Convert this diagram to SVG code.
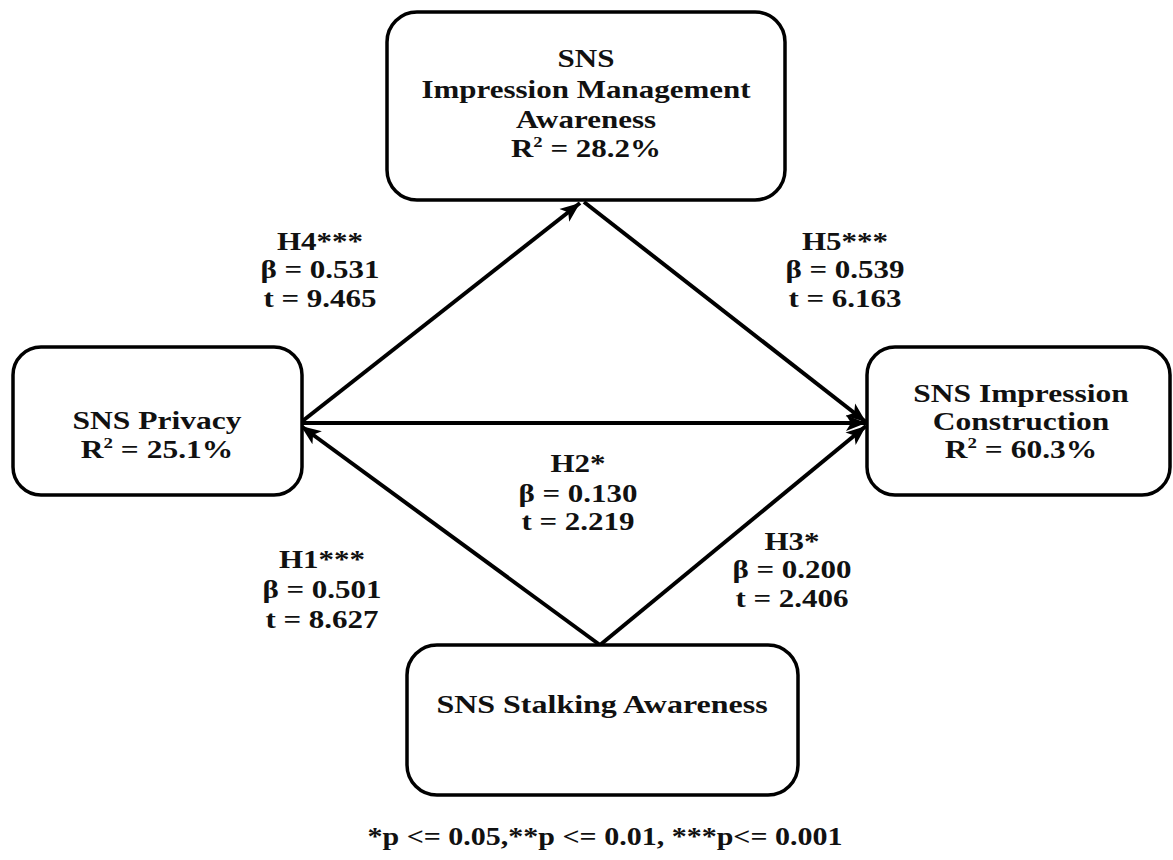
<svg xmlns="http://www.w3.org/2000/svg" width="1173" height="860" viewBox="0 0 1173 860">
<style>
.box{fill:#fff;stroke:#000;stroke-width:3.5}
.t{font-family:"Liberation Serif","Times New Roman",serif;font-weight:bold;font-size:25px;fill:#111;text-anchor:middle}
.c{stroke:#000;stroke-width:4;fill:none}
</style>
<defs>
<marker id="ah" markerUnits="userSpaceOnUse" markerWidth="22" markerHeight="18" refX="20" refY="9" orient="auto">
<path d="M0,1 L20,9 L0,17 L5,9 z" fill="#000"/>
</marker>
</defs>
<rect width="1173" height="860" fill="#fff"/>
<g id="connectors">
<line class="c" x1="300" y1="423" x2="580" y2="203" marker-end="url(#ah)"/>
<line class="c" x1="584" y1="202" x2="866" y2="422" marker-end="url(#ah)"/>
<line class="c" x1="300" y1="423" x2="866" y2="423" stroke-width="4.5" marker-end="url(#ah)"/>
<line class="c" x1="600" y1="645" x2="301" y2="426" marker-end="url(#ah)"/>
<line class="c" x1="600" y1="645" x2="866" y2="426" marker-end="url(#ah)"/>
</g>
<g id="node-impression-management">
<rect class="box" x="387" y="12" width="398" height="188" rx="30"/>
<text class="t" transform="translate(586,67) scale(1.24,1)">SNS</text>
<text class="t" transform="translate(586,98) scale(1.24,1)">Impression Management</text>
<text class="t" transform="translate(586,128) scale(1.24,1)">Awareness</text>
<text class="t" transform="translate(586,157) scale(1.24,1)">R<tspan font-size="15" dy="-10">2</tspan><tspan dy="10"> = 28.2%</tspan></text>
</g>
<g id="node-privacy">
<rect class="box" x="13" y="347" width="289" height="148" rx="28"/>
<text class="t" transform="translate(157,429) scale(1.26,1)">SNS Privacy</text>
<text class="t" transform="translate(157,458) scale(1.26,1)">R<tspan font-size="15" dy="-10">2</tspan><tspan dy="10"> = 25.1%</tspan></text>
</g>
<g id="node-impression-construction">
<rect class="box" x="867" y="347" width="303" height="148" rx="28"/>
<text class="t" transform="translate(1021,402) scale(1.26,1)">SNS Impression</text>
<text class="t" transform="translate(1021,430) scale(1.26,1)">Construction</text>
<text class="t" transform="translate(1021,458) scale(1.26,1)">R<tspan font-size="15" dy="-10">2</tspan><tspan dy="10"> = 60.3%</tspan></text>
</g>
<g id="node-stalking">
<rect class="box" x="407" y="645" width="391" height="150" rx="30"/>
<text class="t" transform="translate(602,713) scale(1.28,1)">SNS Stalking Awareness</text>
</g>
<g id="labels">
<text class="t" transform="translate(320,250) scale(1.24,1)">H4***</text>
<text class="t" transform="translate(320,278) scale(1.24,1)">β = 0.531</text>
<text class="t" transform="translate(320,307) scale(1.24,1)">t = 9.465</text>
<text class="t" transform="translate(845,250) scale(1.24,1)">H5***</text>
<text class="t" transform="translate(845,278) scale(1.24,1)">β = 0.539</text>
<text class="t" transform="translate(845,307) scale(1.24,1)">t = 6.163</text>
<text class="t" transform="translate(578,472) scale(1.24,1)">H2*</text>
<text class="t" transform="translate(578,502) scale(1.24,1)">β = 0.130</text>
<text class="t" transform="translate(578,530) scale(1.24,1)">t = 2.219</text>
<text class="t" transform="translate(322,568) scale(1.24,1)">H1***</text>
<text class="t" transform="translate(322,598) scale(1.24,1)">β = 0.501</text>
<text class="t" transform="translate(322,628) scale(1.24,1)">t = 8.627</text>
<text class="t" transform="translate(792,550) scale(1.24,1)">H3*</text>
<text class="t" transform="translate(792,578) scale(1.24,1)">β = 0.200</text>
<text class="t" transform="translate(792,607) scale(1.24,1)">t = 2.406</text>
<text class="t" transform="translate(605,845) scale(1.2,1)">*p &lt;= 0.05,**p &lt;= 0.01, ***p&lt;= 0.001</text>
</g>
</svg>
